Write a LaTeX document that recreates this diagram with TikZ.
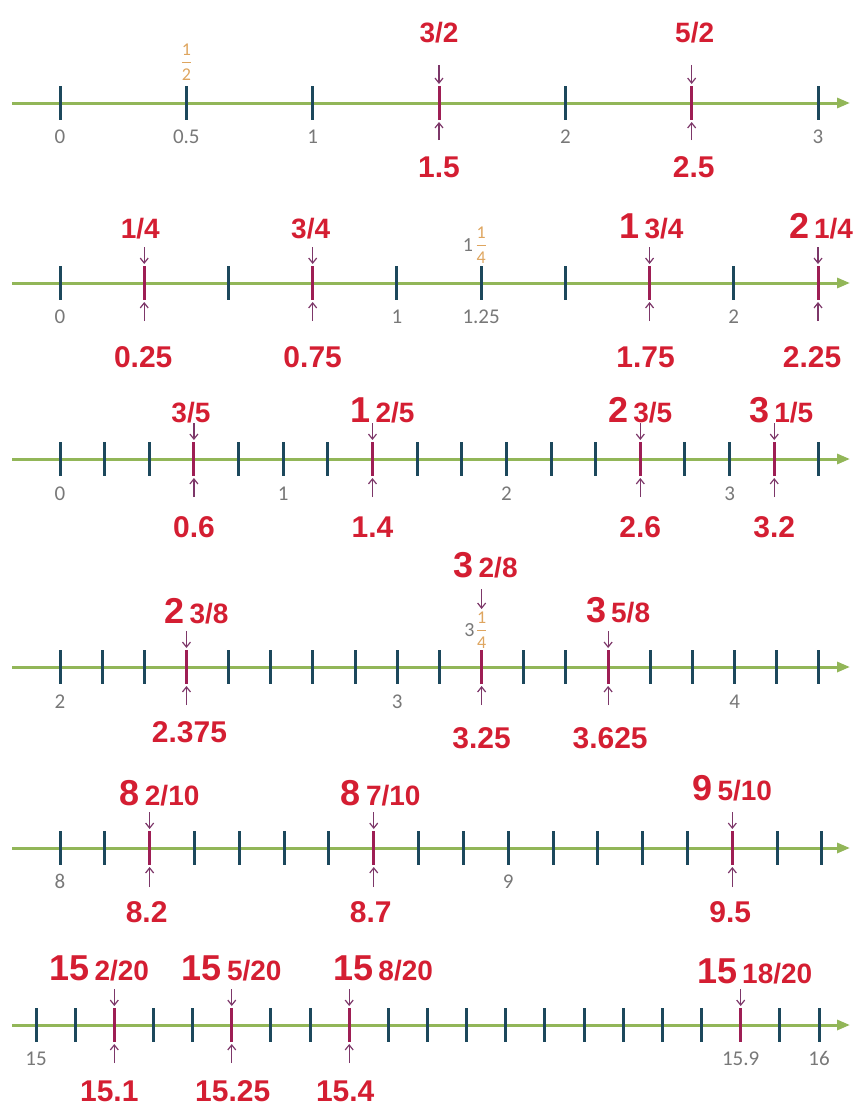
\documentclass[tikz,border=0pt]{standalone}
\usepackage{amsmath}
\usepackage{fontspec}
\setmainfont{Liberation Sans}
\newfontfamily\calibri{Carlito}
\usetikzlibrary{arrows.meta,positioning}

\definecolor{linegreen}{RGB}{146,182,88}
\definecolor{tickblue}{RGB}{28,72,92}
\definecolor{hitmag}{RGB}{158,30,84}
\definecolor{ptrpurple}{RGB}{125,55,105}
\definecolor{labred}{RGB}{212,30,50}
\definecolor{labgray}{RGB}{120,120,120}
\definecolor{fracorange}{RGB}{222,165,95}

\newcommand{\whole}[1]{{\fontsize{36}{36}\selectfont #1}\hspace{5pt}}
\newcommand{\minifrac}[2]{$\genfrac{}{}{1.8pt}{0}{\text{#1}}{\text{#2}}$}

\tikzset{
  numline/.style={line width=3pt,linegreen,-{Triangle[length=13pt,width=10pt]}},
  tickmark/.style={line width=3pt,tickblue},
  hitmark/.style={line width=3pt,hitmag},
  pointer/.style={line width=1.2pt,ptrpurple,-{Straight Barb[length=5pt,width=8pt]}},
  ticklab/.style={inner sep=0pt,anchor=base,text=labgray,font=\calibri\fontsize{21}{21}\selectfont},
  fraclab/.style={inner sep=0pt,anchor=base,text=labred,font=\bfseries\fontsize{28}{28}\selectfont},
  declab/.style={inner sep=0pt,anchor=base,text=labred,font=\bfseries\fontsize{30}{30}\selectfont},
  fracmark/.style={inner sep=0pt,text=fracorange,font=\calibri\fontsize{18}{18}\selectfont},
  wholemark/.style={inner sep=0pt,text=labgray,font=\calibri\fontsize{20}{20}\selectfont}
}

\begin{document}
\begin{tikzpicture}[x=1pt,y=-1pt]
  \useasboundingbox (0,0) rectangle (860,1108);
  \foreach \ly in {103,283,459,667,848,1025}
    \draw[numline] (12,\ly) -- (850,\ly);

  % halves
  \begin{scope}[shift={(60,103)},x=252.67pt,y=-1pt]
    \foreach \k in {0,...,6}
      \draw[tickmark] (\k/2,-17) -- (\k/2,17);
    \foreach \v [count=\i] in {0,0.5,1,2,3}
      \node[ticklab] (h\i) at (\v,40) {\v};
    \node[fracmark] (hhalf) at (0.5,-41) {\minifrac{1}{2}};
    \foreach \v in {1.5,2.5}{
      \draw[hitmark] (\v,-17) -- (\v,17);
      \draw[pointer] (\v,-38) -- (\v,-19);
      \draw[pointer] (\v,37) -- (\v,19);
    }
    \node[fraclab] (hf1) at (1.5,-60) {3/2};
    \node[fraclab,xshift=3pt] (hf2) at (2.5,-60) {5/2};
    \node[declab] (hd1) at (1.5,74) {1.5};
    \node[declab,xshift=2pt] (hd2) at (2.5,74) {2.5};
  \end{scope}

  % quarters
  \begin{scope}[shift={(60,283)},x=336.9pt,y=-1pt]
    \foreach \k in {0,...,9}
      \draw[tickmark] (\k/4,-17) -- (\k/4,17);
    \foreach \v [count=\i] in {0,1,1.25,2}
      \node[ticklab] (q\i) at (\v,40) {\v};
    \node[fracmark] (qquart) at (1.25,-38) {\minifrac{1}{4}};
    \node[wholemark,left=2pt of qquart] (qone) {1};
    \foreach \v in {0.25,0.75,1.75,2.25}{
      \draw[hitmark] (\v,-17) -- (\v,17);
      \draw[pointer] (\v,-36) -- (\v,-19);
      \draw[pointer] (\v,38) -- (\v,19);
    }
    \node[fraclab,xshift=-4pt] (qf1) at (0.25,-45) {1/4};
    \node[fraclab,xshift=-2pt] (qf2) at (0.75,-45) {3/4};
    \node[fraclab,xshift=2pt] (qf3) at (1.75,-45) {\whole{1}3/4};
    \node[fraclab,xshift=3pt] (qf4) at (2.25,-45) {\whole{2}1/4};
    \node[declab,xshift=-1pt] (qd1) at (0.25,84) {0.25};
    \node[declab] (qd2) at (0.75,84) {0.75};
    \node[declab,xshift=-4pt] (qd3) at (1.75,84) {1.75};
    \node[declab,xshift=-6pt] (qd4) at (2.25,84) {2.25};
  \end{scope}

  % fifths
  \begin{scope}[shift={(60,459)},x=223.2pt,y=-1pt]
    \foreach \k in {0,...,17}
      \draw[tickmark] (\k/5,-17) -- (\k/5,17);
    \foreach \v [count=\i] in {0,1,2,3}
      \node[ticklab] (f\i) at (\v,41) {\v};
    \foreach \v in {0.6,1.4,2.6,3.2}{
      \draw[hitmark] (\v,-17) -- (\v,17);
      \draw[pointer] (\v,-36) -- (\v,-19);
      \draw[pointer] (\v,38) -- (\v,19);
    }
    \node[fraclab,xshift=-3pt] (ff1) at (0.6,-37) {3/5};
    \node[fraclab,xshift=10pt] (ff2) at (1.4,-37) {\whole{1}2/5};
    \node[fraclab] (ff3) at (2.6,-37) {\whole{2}3/5};
    \node[fraclab,xshift=7pt] (ff4) at (3.2,-37) {\whole{3}1/5};
    \node[declab] (fd1) at (0.6,78) {0.6};
    \node[declab] (fd2) at (1.4,78) {1.4};
    \node[declab] (fd3) at (2.6,78) {2.6};
    \node[declab] (fd4) at (3.2,78) {3.2};
  \end{scope}

  % eighths
  \begin{scope}[shift={(60,667)},x=337.3pt,y=-1pt]
    \foreach \k in {0,...,18}
      \draw[tickmark] (\k/8,-17) -- (\k/8,17);
    \foreach \v [count=\i] in {2,3,4}
      \node[ticklab] (e\i) at (\i-1,41) {\v};
    \node[fracmark] (equart) at (1.25,-37) {\minifrac{1}{4}};
    \node[wholemark,left=1pt of equart] (ethree) {3};
    \foreach \v in {0.375,1.25,1.625}{
      \draw[hitmark] (\v,-17) -- (\v,17);
      \draw[pointer] (\v,38) -- (\v,19);
    }
    \draw[pointer] (0.375,-36) -- (0.375,-19);
    \draw[pointer] (1.625,-36) -- (1.625,-19);
    \draw[pointer] (1.25,-78) -- (1.25,-58);
    \node[fraclab,xshift=10pt] (ef1) at (0.375,-44) {\whole{2}3/8};
    \node[fraclab,xshift=4pt] (ef2) at (1.25,-90) {\whole{3}2/8};
    \node[fraclab,xshift=10pt] (ef3) at (1.625,-45) {\whole{3}5/8};
    \node[declab,xshift=3pt] (ed1) at (0.375,75) {2.375};
    \node[declab] (ed2) at (1.25,81) {3.25};
    \node[declab,xshift=2pt] (ed3) at (1.625,81) {3.625};
  \end{scope}

  % tenths
  \begin{scope}[shift={(60,848)},x=448.2pt,y=-1pt]
    \foreach \k in {0,...,17}
      \draw[tickmark] (\k/10,-17) -- (\k/10,17);
    \node[ticklab] (t1) at (0,40) {8};
    \node[ticklab] (t2) at (1,40) {9};
    \foreach \v in {0.2,0.7,1.5}{
      \draw[hitmark] (\v,-17) -- (\v,17);
      \draw[pointer] (\v,-36) -- (\v,-19);
      \draw[pointer] (\v,39) -- (\v,19);
    }
    \node[fraclab,xshift=10pt] (tf1) at (0.2,-43) {\whole{8}2/10};
    \node[fraclab,xshift=7pt] (tf2) at (0.7,-43) {\whole{8}7/10};
    \node[fraclab] (tf3) at (1.5,-48) {\whole{9}5/10};
    \node[declab,xshift=-3pt] (td1) at (0.2,74) {8.2};
    \node[declab,xshift=-3pt] (td2) at (0.7,74) {8.7};
    \node[declab,xshift=-2pt] (td3) at (1.5,74) {9.5};
  \end{scope}

  % twentieths
  \begin{scope}[shift={(36,1025)},x=783pt,y=-1pt]
    \foreach \k in {0,...,20}
      \draw[tickmark] (\k/20,-17) -- (\k/20,17);
    \foreach \v/\lab [count=\i] in {0/15,0.9/15.9,1/16}
      \node[ticklab] (w\i) at (\v,40) {\lab};
    \foreach \v in {0.1,0.25,0.4,0.9}{
      \draw[hitmark] (\v,-17) -- (\v,17);
      \draw[pointer] (\v,-36) -- (\v,-19);
    }
    \foreach \v in {0.1,0.25,0.4}
      \draw[pointer] (\v,38) -- (\v,19);
    \node[fraclab,xshift=-15pt] (wf1) at (0.1,-45) {\whole{15}2/20};
    \node[fraclab] (wf2) at (0.25,-45) {\whole{15}5/20};
    \node[fraclab,xshift=34pt] (wf3) at (0.4,-45) {\whole{15}8/20};
    \node[fraclab,xshift=14pt] (wf4) at (0.9,-42) {\whole{15}18/20};
    \node[declab,xshift=-5pt] (wd1) at (0.1,76) {15.1};
    \node[declab,xshift=1pt] (wd2) at (0.25,76) {15.25};
    \node[declab,xshift=-4pt] (wd3) at (0.4,76) {15.4};
  \end{scope}
\end{tikzpicture}
\end{document}
